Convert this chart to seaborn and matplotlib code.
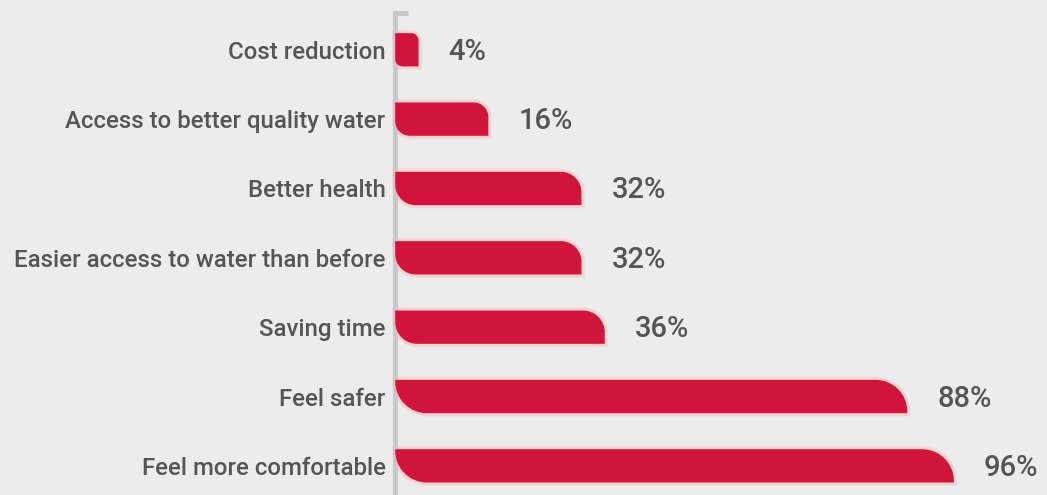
import numpy as np
import pandas as pd
import matplotlib
matplotlib.use("Agg")
import matplotlib.pyplot as plt
import seaborn as sns
from matplotlib.path import Path
from matplotlib.patches import PathPatch

categories = ["Cost reduction", "Access to better quality water", "Better health",
              "Easier access to water than before", "Saving time", "Feel safer",
              "Feel more comfortable"]
values = [4, 16, 32, 32, 36, 88, 96]
value_labels = ["4%", "16%", "32%", "32%", "36%", "88%", "96%"]

df = pd.DataFrame({"category": categories, "value": values})

bg = "#ececec"
red = "#d0143c"
pink = "#f7d4d1"
txt = "#555555"

sns.set_theme(style="white")
plt.rcParams["font.family"] = ["Roboto", "DejaVu Sans"]

fig = plt.figure(figsize=(10.47, 4.95), dpi=100, facecolor=bg)
ax = fig.add_axes([0.3775, 0.0, 0.6225, 0.9737])
ax.set_facecolor(bg)

sns.barplot(data=df, x="value", y="category", orient="h", color=red, width=0.48, ax=ax)
ax.set_xlim(0, 112)
ax.set_ylim(6.42, -0.53)

fig.canvas.draw()
px_x = ax.transData.transform((1, 0))[0] - ax.transData.transform((0, 0))[0]
px_y = abs(ax.transData.transform((0, 1))[1] - ax.transData.transform((0, 0))[1])


def rounded_bar(x0, y0, w, h):
    # y axis is inverted, so the smaller y is the top edge on screen
    top, bot = min(y0, y0 + h), max(y0, y0 + h)
    w_px = w * px_x
    h_px = (bot - top) * px_y
    r = min(1.5 * np.sqrt(w_px), h_px * 0.95, w_px * 0.9)
    rx = r / px_x
    ry = r / px_y
    k = 0.5523
    x1 = x0 + w
    # top-right and bottom-left corners rounded
    verts = [
        (x0, top),
        (x1 - rx, top),
        (x1 - rx + k * rx, top), (x1, top + ry - k * ry), (x1, top + ry),
        (x1, bot),
        (x0 + rx, bot),
        (x0 + rx - k * rx, bot), (x0, bot - ry + k * ry), (x0, bot - ry),
        (x0, top),
        (x0, top),
    ]
    codes = [Path.MOVETO, Path.LINETO,
             Path.CURVE4, Path.CURVE4, Path.CURVE4,
             Path.LINETO, Path.LINETO,
             Path.CURVE4, Path.CURVE4, Path.CURVE4,
             Path.LINETO, Path.CLOSEPOLY]
    return Path(verts, codes)


for patch in list(ax.patches):
    x0, y0 = patch.get_x(), patch.get_y()
    w, h = patch.get_width(), patch.get_height()
    path = rounded_bar(x0, y0, w, h)
    patch.set_visible(False)
    ax.add_patch(PathPatch(path, facecolor=pink, edgecolor=pink, lw=4.5,
                           zorder=2, clip_on=False))
    ax.add_patch(PathPatch(path, facecolor=red, edgecolor="none", zorder=3,
                           clip_on=False))

for i, (v, lab) in enumerate(zip(values, value_labels)):
    ax.annotate(lab, xy=(v, i), xytext=(30, -2), textcoords="offset pixels",
                ha="left", va="center", fontsize=21, fontweight="medium",
                color=txt, zorder=4)

ax.set_xlabel("")
ax.set_ylabel("")
ax.set_xticks([])
ax.tick_params(axis="y", length=0, pad=7, labelsize=17.3, labelcolor=txt)
for lab in ax.get_yticklabels():
    lab.set_fontweight("medium")

for s in ["top", "right", "bottom"]:
    ax.spines[s].set_visible(False)
ax.spines["left"].set_color("#c8c8c8")
ax.spines["left"].set_linewidth(3.6)
ax.plot([0, 0.019], [1, 1], transform=ax.transAxes, color="#c8c8c8",
        lw=3.6, clip_on=False, solid_capstyle="butt")

fig.savefig("out.png", dpi=100, facecolor=bg)
